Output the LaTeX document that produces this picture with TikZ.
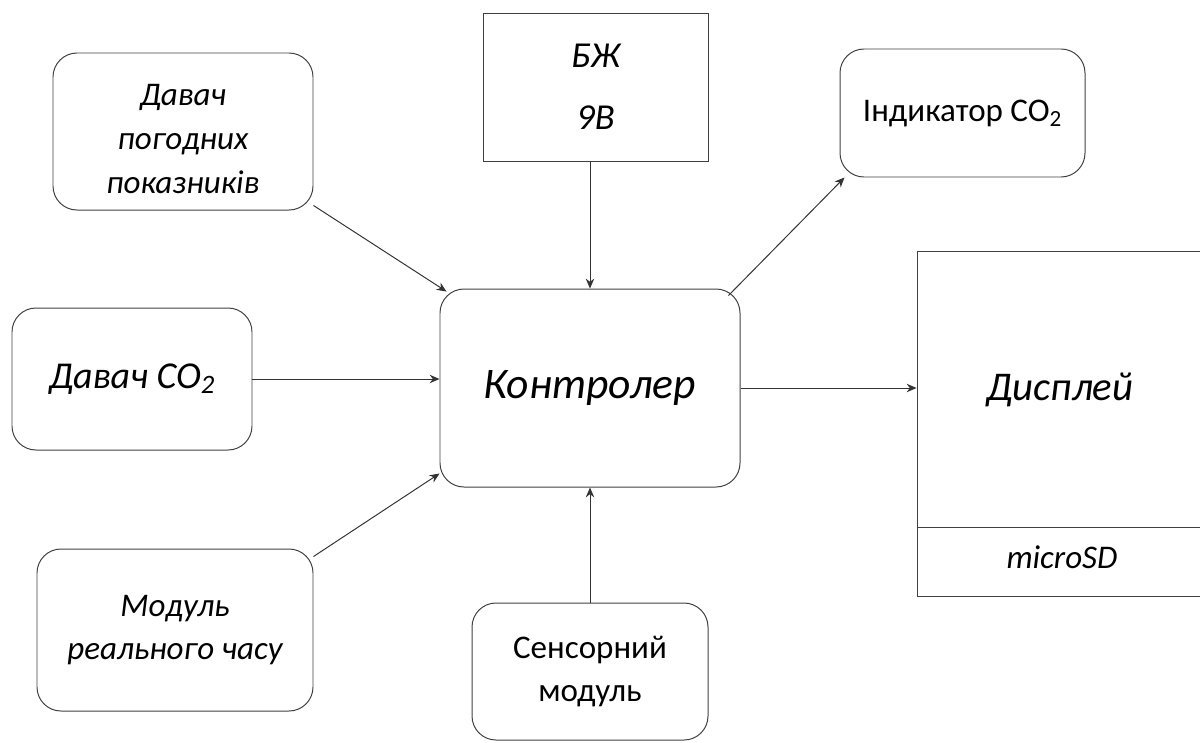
\documentclass[tikz,border=0pt]{standalone}
\usepackage{fontspec}
\setmainfont{Carlito}
\usetikzlibrary{arrows.meta}
\begin{document}
\begin{tikzpicture}[
    blok/.style={draw=black!75,line width=0.7pt,rounded corners=0.6cm,align=center,
                 inner sep=0pt,font=\fontsize{23.5}{31}\selectfont\itshape},
    pryamo/.style={draw=black!75,line width=0.7pt,inner sep=0pt,align=center},
    strilka/.style={draw=black!80,line width=0.7pt,-{Stealth[length=7pt,width=6pt]}}]
  \useasboundingbox (0,0) rectangle (30,-18.55);
  \node[blok,minimum width=6.5cm,minimum height=3.925cm] (pogoda) at (4.575,-3.2875) {};
  \node[align=center,font=\fontsize{23.5}{31}\selectfont\itshape] (pogodaTxt) at (4.575,-3.475)
    {Давач\\погодних\\показників};
  \node[pryamo,minimum width=5.625cm,minimum height=3.7cm,
    font=\fontsize{26}{44}\selectfont\itshape] (bzh) at (14.8875,-2.175) {БЖ\\9В};
  \node[blok,minimum width=6.125cm,minimum height=3.2cm,
    font=\fontsize{23.5}{28}\selectfont] (indyk) at (24.0625,-2.825) {Індикатор CO\textsubscript{2}};
  \node[blok,minimum width=6cm,minimum height=3.55cm,
    font=\fontsize{27}{30}\selectfont\itshape] (davach) at (3.3,-9.475) {Давач CO\textsubscript{2}};
  \node[blok,minimum width=7.5cm,minimum height=4.95cm,
    font=\fontsize{31}{36}\selectfont\itshape] (kontr) at (14.75,-9.7) {Контролер};
  \node[pryamo,minimum width=7.325cm,minimum height=8.625cm] (dyspl) at (26.5875,-10.5875) {};
  \node[font=\fontsize{29}{34}\selectfont\itshape] (dysplTxt) at (26.5,-9.75) {Дисплей};
  \coordinate (dilL) at (22.925,-13.175);
  \draw[draw=black!75,line width=0.7pt] (dilL) -- (dilL -| dyspl.east);
  \node[font=\fontsize{23.5}{28}\selectfont\itshape] (sd) at (26.55,-13.925) {microSD};
  \node[blok,minimum width=6.9cm,minimum height=4.05cm] (modul) at (4.375,-15.75)
    {Модуль\\реального часу};
  \node[blok,minimum width=5.9cm,minimum height=3.425cm,
    font=\fontsize{23.5}{30}\selectfont] (sensor) at (14.75,-16.7875) {Сенсорний\\модуль};
  \draw[strilka] ([yshift=0.125cm]pogoda.south east) -- ([xshift=0.175cm,yshift=-0.075cm]kontr.north west);
  \draw[strilka] (kontr.north |- bzh.south) -- (kontr.north);
  \draw[strilka] (davach.east) -- (davach.east -| kontr.west);
  \draw[strilka] ([yshift=-0.2cm]modul.north east) -- ([yshift=0.35cm]kontr.south west);
  \draw[strilka] (sensor.north) -- (kontr.south);
  \draw[strilka] ([xshift=-0.3cm,yshift=-0.175cm]kontr.north east) -- ([xshift=0.125cm]indyk.south west);
  \draw[strilka] (kontr.east) -- (kontr.east -| dyspl.west);
\end{tikzpicture}
\end{document}
